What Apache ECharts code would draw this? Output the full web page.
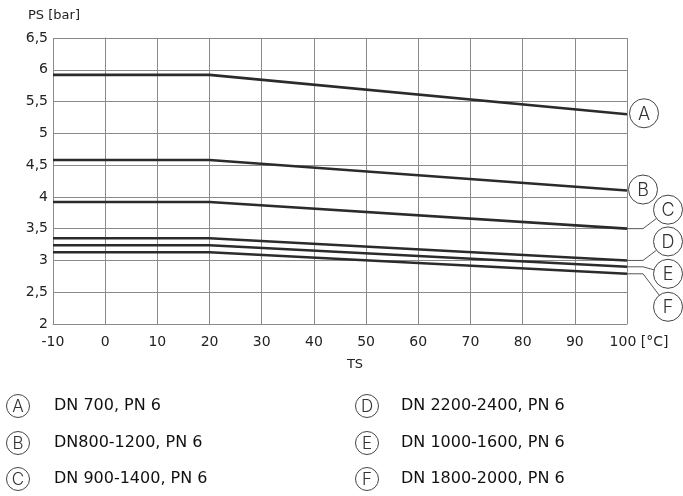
<!DOCTYPE html>
<html>
<head>
<meta charset="utf-8">
<script src="https://cdn.jsdelivr.net/npm/echarts@6/dist/echarts.min.js"></script>
<style>
html,body{margin:0;padding:0;background:#fff;}
#c{width:683px;height:496px;}
</style>
</head>
<body>
<div id="c"></div>
<script>
// ---- data ----
const xValues = [-10, 20, 100];
const seriesA = [5.92, 5.92, 5.30];
const seriesB = [4.58, 4.58, 4.10];
const seriesC = [3.92, 3.92, 3.50];
const seriesD = [3.35, 3.35, 3.00];
const seriesE = [3.24, 3.24, 2.90];
const seriesF = [3.13, 3.13, 2.79];
const letters = ['A', 'B', 'C', 'D', 'E', 'F'];
const seriesNames = ['DN 700, PN 6', 'DN800-1200, PN 6', 'DN 900-1400, PN 6',
                     'DN 2200-2400, PN 6', 'DN 1000-1600, PN 6', 'DN 1800-2000, PN 6'];
const yName = 'PS [bar]';
const xName = 'TS';
const xUnit = '[°C]';

// ---- layout / style ----
const FONT = '"DejaVu Sans", sans-serif';
const LFONT = 'Inter, "Noto Sans", sans-serif';
const allSeries = [seriesA, seriesB, seriesC, seriesD, seriesE, seriesF];
// label circle offsets from line end (px)
const labelOffsets = [[17, -1], [16, -1], [41, -19], [41, -19], [41, 7], [41, 33]];
const leaderStub = [0, 0, 16, 16, 16, 16];
const R = 14.5;
const RL = 11.5;
const legendPos = [[18, 54, 406], [18, 54, 443], [18, 54, 479], [367, 401, 406], [367, 401, 443], [367, 401, 479]];

const chart = echarts.init(document.getElementById('c'), null, {renderer: 'canvas'});
const gridColor = '#8a8a8a';
const option = {
  animation: false,
  grid: {left: 53, right: 56, top: 38, bottom: 172, containLabel: false},
  xAxis: {
    type: 'value', min: -10, max: 100, interval: 10,
    name: xName, nameLocation: 'middle', nameGap: 34,
    nameTextStyle: {fontFamily: FONT, fontSize: 13, color: '#222', padding: [0, 0, 0, 30]},
    axisLine: {show: true, lineStyle: {color: gridColor, width: 1}},
    axisTick: {show: false},
    splitLine: {show: true, lineStyle: {color: gridColor, width: 1}},
    axisLabel: {
      fontFamily: FONT, fontSize: 14, color: '#222', margin: 11,
      formatter: function (v) { return v === 100 ? '{g|}' + v + ' ' + xUnit : String(v); },
      rich: {g: {width: 24}}
    }
  },
  yAxis: {
    type: 'value', min: 2, max: 6.5, interval: 0.5,
    axisLine: {show: true, lineStyle: {color: gridColor, width: 1}},
    axisTick: {show: false},
    splitLine: {show: true, lineStyle: {color: gridColor, width: 1}},
    axisLabel: {
      fontFamily: FONT, fontSize: 14, color: '#222', margin: 5,
      formatter: function (v) { return String(v).replace('.', ','); }
    }
  },
  series: allSeries.map(function (s, i) {
    return {
      type: 'line', name: letters[i], symbol: 'none',
      data: xValues.map(function (x, j) { return [x, s[j]]; }),
      lineStyle: {color: '#2b2b2b', width: 2.6},
      silent: true
    };
  })
};
chart.setOption(option);

const graphics = [];
// y axis name above axis top
const axisTop = chart.convertToPixel({xAxisIndex: 0, yAxisIndex: 0}, [-10, 6.5]);
graphics.push({type: 'text', silent: true,
  style: {text: yName, x: axisTop[0] + 1, y: axisTop[1] - 22, align: 'center', verticalAlign: 'middle',
    fontFamily: FONT, fontSize: 13, fill: '#222'}});

allSeries.forEach(function (s, i) {
  const p = chart.convertToPixel({xAxisIndex: 0, yAxisIndex: 0}, [xValues[xValues.length - 1], s[s.length - 1]]);
  const cx = p[0] + labelOffsets[i][0];
  const cy = p[1] + labelOffsets[i][1];
  if (leaderStub[i] > 0) {
    const sx = p[0] + leaderStub[i], sy = p[1];
    const dx = cx - sx, dy = cy - sy, len = Math.sqrt(dx * dx + dy * dy);
    graphics.push({type: 'polyline', silent: true,
      shape: {points: [[p[0], p[1]], [sx, sy], [cx - R * dx / len, cy - R * dy / len]]},
      style: {stroke: '#555', lineWidth: 1, fill: null}});
  }
  graphics.push({type: 'circle', silent: true, shape: {cx: cx, cy: cy, r: R},
    style: {fill: '#fff', stroke: '#444', lineWidth: 1}});
  graphics.push({type: 'text', silent: true,
    style: {text: letters[i], x: cx, y: cy + 1, align: 'center', verticalAlign: 'middle',
      fontFamily: LFONT, fontWeight: 300, fontSize: 18, fill: '#333'}});
});
// legend
letters.forEach(function (l, i) {
  const lp = legendPos[i];
  graphics.push({type: 'circle', silent: true, shape: {cx: lp[0], cy: lp[2], r: RL},
    style: {fill: '#fff', stroke: '#444', lineWidth: 1}});
  graphics.push({type: 'text', silent: true,
    style: {text: l, x: lp[0], y: lp[2] + 0.5, align: 'center', verticalAlign: 'middle',
      fontFamily: LFONT, fontWeight: 300, fontSize: 17, fill: '#333'}});
  graphics.push({type: 'text', silent: true,
    style: {text: seriesNames[i], x: lp[1], y: lp[2], align: 'left', verticalAlign: 'middle',
      fontFamily: FONT, fontSize: 16, fill: '#111'}});
});
chart.setOption({graphic: graphics});
</script>
</body>
</html>
